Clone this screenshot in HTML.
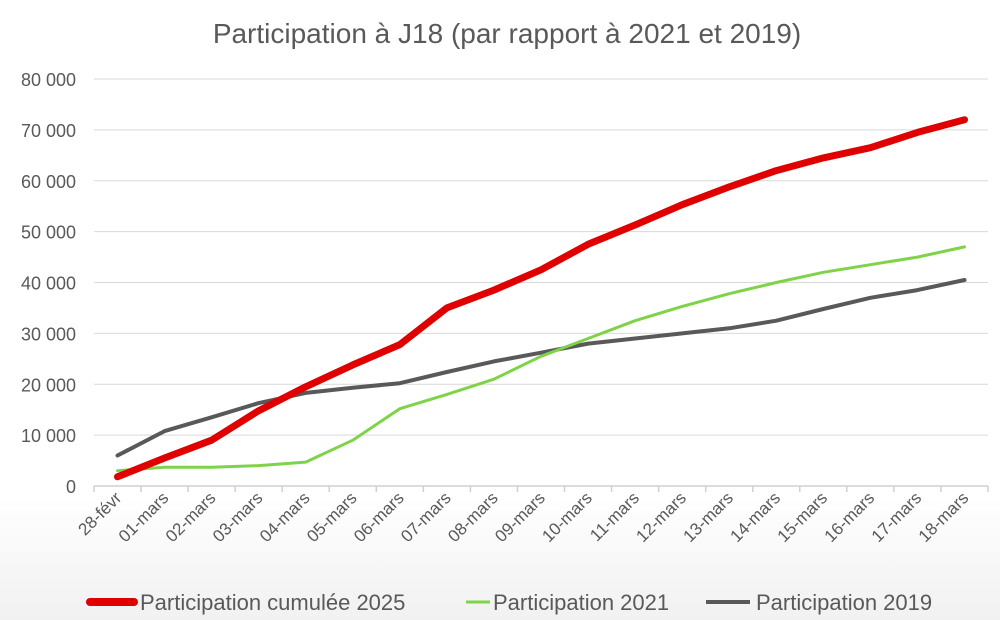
<!DOCTYPE html>
<html><head><meta charset="utf-8">
<style>
html,body{margin:0;padding:0;background:#fff;}
svg{display:block;font-family:"Liberation Sans",sans-serif;}
</style></head>
<body>
<svg id="chart" width="1000" height="620" viewBox="0 0 1000 620">
<defs><linearGradient id="bg" x1="0" y1="0" x2="0" y2="1">
<stop offset="0" stop-color="#ffffff"/><stop offset="0.8" stop-color="#ffffff"/><stop offset="1" stop-color="#f1f1f1"/></linearGradient></defs>
<rect width="1000" height="620" fill="url(#bg)"/>
<text x="507" y="43" text-anchor="middle" font-size="28" fill="#595959">Participation à J18 (par rapport à 2021 et 2019)</text>
<g id="grid"></g><g id="axes"></g><g id="series"></g>
<g>
<line x1="90" y1="602" x2="134" y2="602" stroke="#e00000" stroke-width="8" stroke-linecap="round"/>
<text x="140" y="610" font-size="22" fill="#595959">Participation cumulée 2025</text>
<line x1="466" y1="602" x2="490" y2="602" stroke="#7ed348" stroke-width="3"/>
<text x="493" y="610" font-size="22" fill="#595959">Participation 2021</text>
<line x1="706" y1="602" x2="750" y2="602" stroke="#595959" stroke-width="4"/>
<text x="756" y="610" font-size="22" fill="#595959">Participation 2019</text>
</g>
</svg>
<script>
const categories=["28-févr","01-mars","02-mars","03-mars","04-mars","05-mars","06-mars","07-mars","08-mars","09-mars","10-mars","11-mars","12-mars","13-mars","14-mars","15-mars","16-mars","17-mars","18-mars"];
const values2025=[1800,5500,9000,14800,19500,23800,27800,35000,38500,42500,47500,51300,55300,58800,62000,64500,66500,69500,72000];
const values2021=[3000,3700,3700,4000,4700,9000,15200,18000,21000,25500,29000,32500,35300,37800,40000,42000,43500,45000,47000];
const values2019=[6000,10800,13500,16300,18300,19300,20200,22400,24500,26200,28000,29000,30000,31000,32500,34800,37000,38500,40500];
const yTicks=[0,10000,20000,30000,40000,50000,60000,70000,80000];
const yTickLabels=["0","10 000","20 000","30 000","40 000","50 000","60 000","70 000","80 000"];

const NS="http://www.w3.org/2000/svg";
const X0=94,X1=988,Y0=486,Y1=79,YMAX=80000;
const band=(X1-X0)/categories.length;
const xPos=i=>X0+band*(i+0.5);
const yPos=v=>Y0-(v/YMAX)*(Y0-Y1);
function mk(tag,attrs,parent){const e=document.createElementNS(NS,tag);for(const k in attrs)e.setAttribute(k,attrs[k]);parent.appendChild(e);return e;}
const grid=document.getElementById('grid'),axes=document.getElementById('axes'),series=document.getElementById('series');
yTicks.forEach((t,i)=>{
  if(t>0){const l=mk('line',{x1:X0,x2:X1,y1:yPos(t),y2:yPos(t),stroke:'#d9d9d9','stroke-width':1},grid);
  
  }
  const tx=mk('text',{x:76,y:yPos(t)+7,'text-anchor':'end','font-size':18,fill:'#595959'},axes);
  tx.textContent=yTickLabels[i];
  
  
});
const ax=mk('line',{x1:X0,x2:X1,y1:Y0,y2:Y0,stroke:'#d0d0d0','stroke-width':1.5},axes);


for(let i=0;i<=categories.length;i++){
  const tk=mk('line',{x1:X0+band*i,x2:X0+band*i,y1:Y0,y2:Y0+6,stroke:'#d0d0d0','stroke-width':1.5},axes);
  
  
}
categories.forEach((c,i)=>{
  const x=xPos(i)+5,y=Y0+13;
  const tx=mk('text',{x:x,y:y,'text-anchor':'end','font-size':17,fill:'#595959',transform:`rotate(-45 ${x} ${y})`},axes);
  tx.textContent=c;
  
  
});
function drawLine(vals,color,w,name){
  const d=vals.map((v,i)=>(i?'L':'M')+xPos(i).toFixed(1)+' '+yPos(v).toFixed(1)).join(' ');
  const p=mk('path',{d:d,fill:'none',stroke:color,'stroke-width':w,'stroke-linejoin':'round','stroke-linecap':'round'},series);
  
  
}
drawLine(values2019,'#595959',4,'line-2019');
drawLine(values2021,'#7ed348',3,'line-2021');
drawLine(values2025,'#e00000',7,'line-2025');
</script>
</body></html>
